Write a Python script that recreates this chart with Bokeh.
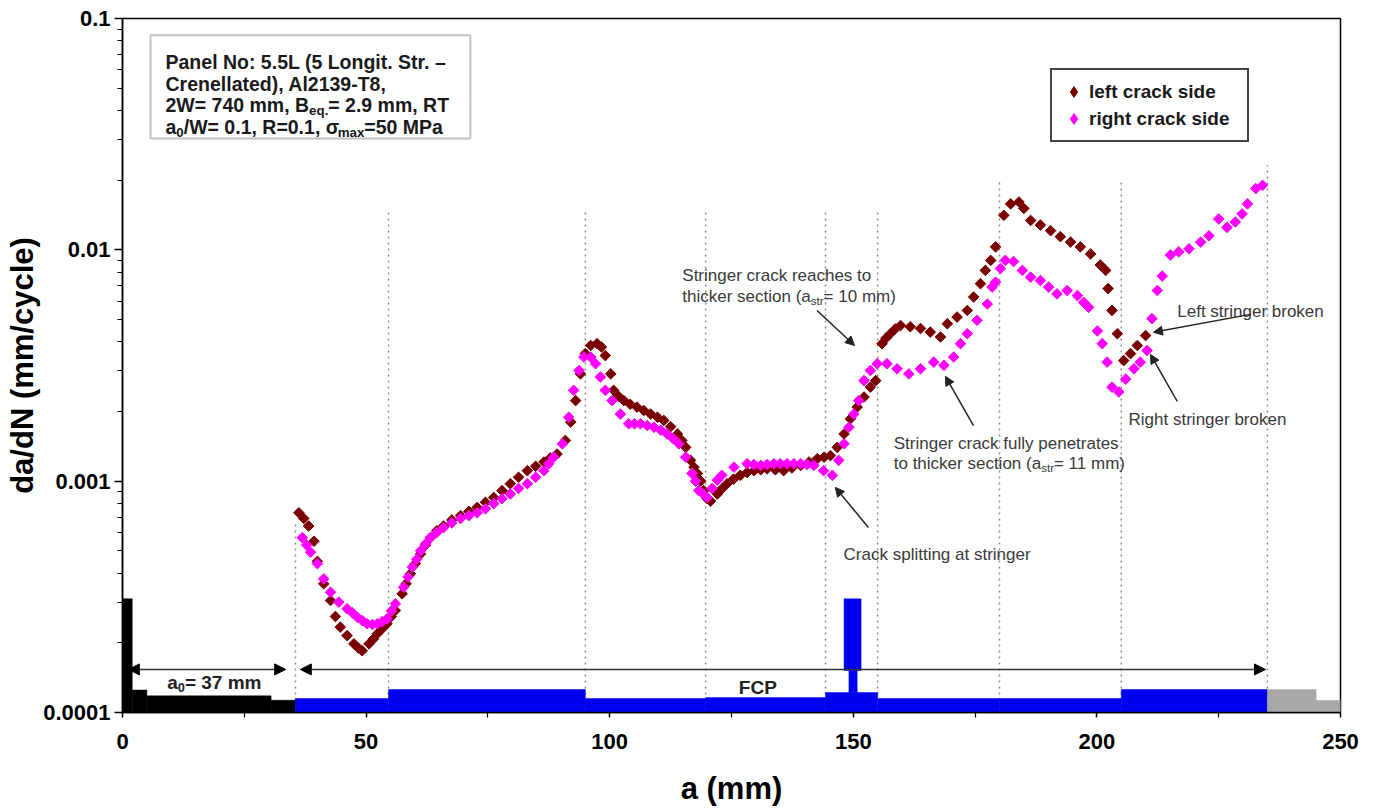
import numpy as np
from bokeh.plotting import figure
from bokeh.models import (Range1d, FixedTicker, PrintfTickFormatter, Arrow, NormalHead,
                          BoxAnnotation, Legend, LegendItem)
from bokeh.core.properties import value
from bokeh.embed import file_html
from bokeh.resources import INLINE

FONT = "Liberation Sans"

# da/dN readings, left crack tip
left_a = [36.2, 37.2, 38.2, 39.3, 40.0, 41.3, 42.7, 43.7, 44.7, 46.1, 47.5, 48.4, 49.2, 50.6, 51.5,
          52.3, 53.3, 54.3, 55.2, 56.0, 57.4, 58.2, 59.1, 60.1, 61.2, 62.2, 63.2, 64.5, 65.9, 67.6,
          69.4, 71.1, 72.8, 74.5, 76.2, 77.9, 79.6, 81.3, 83.1, 84.8, 86.5, 87.8, 89.2, 90.9, 92.0,
          93.0, 94.0, 95.0, 96.1, 97.4, 98.3, 99.1, 100.2, 100.8, 101.8, 102.9, 104.2, 105.6, 107.0,
          108.4, 109.8, 111.1, 112.5, 113.9, 114.8, 115.6, 116.6, 117.3, 118.0, 118.7, 119.3, 120.0,
          120.7, 122.1, 123.1, 124.1, 125.4, 126.8, 128.2, 129.6, 131.0, 132.3, 134.0, 135.7, 137.4,
          139.2, 140.9, 142.6, 144.0, 145.3, 146.7, 148.1, 149.4, 150.8, 152.2, 153.5, 154.6, 155.9,
          156.7, 157.6, 158.6, 159.7, 161.7, 163.8, 165.8, 167.9, 169.3, 171.3, 173.4, 174.7, 176.1,
          177.1, 178.2, 179.2, 180.9, 182.3, 184.0, 185.0, 186.4, 188.4, 190.5, 192.5, 194.6, 196.6,
          198.7, 200.7, 201.8, 202.3, 203.1, 204.2, 205.5, 206.9, 208.3, 210.0]
left_rate = [7.3e-4, 6.9e-4, 6.4e-4, 5.5e-4, 4.5e-4, 3.6e-4, 3.05e-4, 2.6e-4, 2.34e-4, 2.15e-4,
             1.98e-4, 1.9e-4, 1.85e-4, 1.98e-4, 2.08e-4, 2.19e-4, 2.3e-4, 2.42e-4, 2.6e-4, 2.76e-4,
             3.26e-4, 3.6e-4, 3.98e-4, 4.4e-4, 4.85e-4, 5.3e-4, 5.7e-4, 6.1e-4, 6.4e-4, 6.8e-4,
             7.1e-4, 7.4e-4, 7.7e-4, 8.1e-4, 8.5e-4, 9.1e-4, 9.75e-4, 1.04e-3, 1.11e-3, 1.16e-3,
             1.21e-3, 1.26e-3, 1.31e-3, 1.5e-3, 1.8e-3, 2.23e-3, 2.91e-3, 3.56e-3, 3.86e-3, 3.93e-3,
             3.8e-3, 3.49e-3, 2.91e-3, 2.47e-3, 2.33e-3, 2.23e-3, 2.15e-3, 2.09e-3, 2.02e-3, 1.95e-3,
             1.89e-3, 1.83e-3, 1.72e-3, 1.6e-3, 1.5e-3, 1.4e-3, 1.23e-3, 1.15e-3, 1.08e-3, 1.0e-3,
             9.1e-4, 8.4e-4, 8.2e-4, 8.8e-4, 9.3e-4, 9.75e-4, 1.02e-3, 1.06e-3, 1.09e-3, 1.11e-3,
             1.12e-3, 1.13e-3, 1.12e-3, 1.11e-3, 1.14e-3, 1.17e-3, 1.21e-3, 1.25e-3, 1.27e-3, 1.29e-3,
             1.4e-3, 1.6e-3, 1.86e-3, 2.09e-3, 2.31e-3, 2.55e-3, 2.72e-3, 3.93e-3, 4.15e-3, 4.34e-3,
             4.55e-3, 4.71e-3, 4.65e-3, 4.57e-3, 4.41e-3, 4.2e-3, 4.79e-3, 5.12e-3, 5.47e-3, 6.25e-3,
             7.14e-3, 8.15e-3, 9.0e-3, 1.03e-2, 1.41e-2, 1.58e-2, 1.61e-2, 1.51e-2, 1.34e-2, 1.28e-2,
             1.21e-2, 1.14e-2, 1.08e-2, 1.03e-2, 9.6e-3, 8.6e-3, 8.15e-3, 6.8e-3, 5.47e-3, 4.34e-3,
             3.32e-3, 3.56e-3, 3.86e-3, 4.26e-3]

# da/dN readings, right crack tip
right_a = [36.9, 37.8, 38.6, 40.0, 41.3, 42.7, 44.4, 46.1, 47.2, 48.2, 49.2, 50.2, 51.3, 52.3, 53.3,
           54.3, 55.2, 56.0, 57.7, 58.6, 59.5, 60.4, 61.2, 62.2, 63.2, 64.5, 65.9, 67.6, 69.4, 71.1,
           72.8, 74.5, 76.2, 77.9, 79.6, 81.3, 83.1, 84.8, 86.5, 87.5, 88.5, 90.3, 91.6, 92.6, 93.7,
           94.7, 96.1, 97.1, 98.1, 99.1, 100.5, 102.2, 103.9, 105.1, 106.3, 107.7, 109.1, 110.5,
           111.8, 113.0, 114.2, 115.6, 116.9, 117.6, 118.3, 119.2, 120.0, 121.0, 122.1, 123.0, 125.5,
           128.2, 129.6, 131.0, 132.3, 133.7, 135.0, 136.4, 137.8, 139.2, 140.5, 141.9, 143.9, 145.7,
           147.0, 148.1, 149.1, 150.1, 151.1, 152.2, 153.5, 154.9, 156.9, 159.0, 161.4, 163.8, 166.5,
           168.6, 170.6, 172.0, 173.4, 175.4, 177.5, 178.5, 179.2, 180.2, 181.2, 182.9, 184.7, 186.4,
           188.4, 190.1, 191.8, 193.9, 196.0, 197.3, 198.3, 200.1, 201.1, 202.1, 203.1, 204.5, 205.9,
           207.6, 208.9, 210.3, 211.3, 212.4, 213.4, 215.1, 216.8, 218.9, 221.3, 223.0, 225.0, 226.7,
           228.4, 229.8, 230.9, 232.6, 234.0]
right_rate = [5.7e-4, 5.3e-4, 4.93e-4, 4.4e-4, 3.78e-4, 3.31e-4, 3.0e-4, 2.81e-4, 2.7e-4, 2.58e-4,
              2.5e-4, 2.42e-4, 2.4e-4, 2.42e-4, 2.47e-4, 2.54e-4, 2.75e-4, 2.95e-4, 3.48e-4, 3.85e-4,
              4.25e-4, 4.6e-4, 5.0e-4, 5.35e-4, 5.7e-4, 6.0e-4, 6.3e-4, 6.6e-4, 6.9e-4, 7.1e-4,
              7.3e-4, 7.6e-4, 8.0e-4, 8.4e-4, 8.8e-4, 9.3e-4, 9.75e-4, 1.04e-3, 1.11e-3, 1.19e-3,
              1.27e-3, 1.45e-3, 1.89e-3, 2.47e-3, 3.01e-3, 3.44e-3, 3.44e-3, 3.22e-3, 2.82e-3, 2.47e-3,
              2.23e-3, 1.95e-3, 1.77e-3, 1.77e-3, 1.77e-3, 1.74e-3, 1.71e-3, 1.66e-3, 1.6e-3, 1.53e-3,
              1.45e-3, 1.27e-3, 1.08e-3, 1.0e-3, 9.1e-4, 8.8e-4, 8.5e-4, 9.3e-4, 1.01e-3, 1.06e-3,
              1.15e-3, 1.19e-3, 1.18e-3, 1.17e-3, 1.18e-3, 1.19e-3, 1.19e-3, 1.19e-3, 1.19e-3, 1.19e-3,
              1.18e-3, 1.17e-3, 1.11e-3, 1.06e-3, 1.23e-3, 1.45e-3, 1.71e-3, 1.95e-3, 2.23e-3, 2.72e-3,
              3.01e-3, 3.22e-3, 3.22e-3, 3.06e-3, 2.91e-3, 3.06e-3, 3.27e-3, 3.17e-3, 3.44e-3, 3.93e-3,
              4.34e-3, 4.96e-3, 5.83e-3, 6.9e-3, 7.25e-3, 8.3e-3, 9.0e-3, 8.9e-3, 8.15e-3, 7.62e-3,
              7.37e-3, 6.9e-3, 6.45e-3, 6.67e-3, 6.34e-3, 5.93e-3, 5.64e-3, 4.46e-3, 3.93e-3, 3.27e-3,
              2.55e-3, 2.43e-3, 2.76e-3, 3.06e-3, 3.27e-3, 3.67e-3, 5.04e-3, 6.67e-3, 7.7e-3, 9.5e-3,
              9.8e-3, 1.01e-2, 1.08e-2, 1.15e-2, 1.36e-2, 1.25e-2, 1.32e-2, 1.43e-2, 1.58e-2, 1.84e-2,
              1.9e-2]

# panel cross-section sketch along the bottom of the chart (step edges in mm, heights in axis units)
notch_edges = [0, 2, 5, 30.5, 35.5]
notch_heights = [3.1e-4, 1.25e-4, 1.18e-4, 1.13e-4]
fcp_edges = [35.5, 54.6, 95, 119.7, 144.3, 155, 180, 205, 235]
fcp_heights = [1.15e-4, 1.257e-4, 1.15e-4, 1.16e-4, 1.22e-4, 1.15e-4, 1.15e-4, 1.257e-4]
stringer_web = [148.1, 151.6, 1.52e-4, 3.1e-4]     # left, right, bottom, top
stringer_neck = [149.1, 150.8, 1.22e-4, 1.52e-4]
rest_edges = [235, 245, 250]
rest_heights = [1.257e-4, 1.127e-4]

# dotted section boundaries
bound_x = [35.5, 54.6, 95, 119.7, 144.3, 155, 180, 205, 235]
bound_top = [6.6e-4, 0.0147, 0.0147, 0.0147, 0.0147, 0.0147, 0.0199, 0.0199, 0.0232]

y_major = [1e-4, 1e-3, 1e-2, 1e-1]
x_major = [0, 50, 100, 150, 200, 250]
x_minor = [25, 75, 125, 175, 225]

BOLD_W = {' ': 278, '(': 333, ')': 333, ',': 278, '-': 333, '.': 278, '/': 278, ':': 333,
          '=': 584, '–': 556, 'σ': 617, 'A': 722, 'B': 722, 'C': 722, 'F': 611, 'L': 611,
          'M': 833, 'N': 722, 'P': 667, 'R': 722, 'S': 667, 'T': 611, 'W': 944, 'a': 556,
          'c': 556, 'd': 611, 'e': 556, 'f': 333, 'g': 611, 'h': 611, 'i': 278, 'k': 556,
          'l': 278, 'm': 889, 'n': 611, 'o': 611, 'q': 611, 'r': 389, 's': 556, 't': 333,
          'x': 556}
REG_W = {' ': 278, '(': 333, ')': 333, '=': 584, 'a': 556, 'c': 500, 'e': 556, 'h': 556,
         'i': 222, 'k': 500, 'm': 833, 'n': 556, 'o': 556, 'r': 333, 's': 500, 't': 278}


def text_width(s, size, bold):
    table = BOLD_W if bold else REG_W
    return sum(table.get(ch, 556) for ch in s) * size / 1000.0


p = figure(width=1374, height=809, x_range=Range1d(0, 250), y_range=Range1d(1e-4, 0.1),
           y_axis_type="log", output_backend="svg", toolbar_location=None,
           min_border_left=122, min_border_right=34, min_border_top=18, min_border_bottom=97)
p.grid.visible = False
p.outline_line_color = "black"
p.outline_line_width = 1.5
p.background_fill_color = "white"
p.border_fill_color = "white"


def draw_rich(x, y, parts, size, bold, color):
    dx = 0.0
    for s, sub in parts:
        fs = size * 0.68 if sub else size
        p.text(x=[x], y=[y], text=[s], x_offset=dx, y_offset=(size * 0.24 if sub else 0),
               text_font=value(FONT), text_font_size=f"{fs:.1f}px",
               text_font_style="bold" if bold else "normal", text_color=color,
               text_align="left", text_baseline="alphabetic")
        dx += text_width(s, fs, bold)


# section boundaries
p.segment(x0=bound_x, y0=[1e-4] * len(bound_x), x1=bound_x, y1=bound_top,
          line_color="#8c8c8c", line_width=1.5, line_dash="2 4")

# cross-section sketch
p.quad(left=notch_edges[:-1], right=notch_edges[1:], bottom=1e-4, top=notch_heights,
       fill_color="black", line_color="black", line_width=0.5)
p.quad(left=fcp_edges[:-1], right=fcp_edges[1:], bottom=1e-4, top=fcp_heights,
       fill_color="#0000f0", line_color="#0000f0", line_width=0.5)
for l, r, b, t in (stringer_web, stringer_neck):
    p.quad(left=[l], right=[r], bottom=[b], top=[t], fill_color="#0000f0",
           line_color="#0000f0", line_width=0.5)
p.quad(left=rest_edges[:-1], right=rest_edges[1:], bottom=1e-4, top=rest_heights,
       fill_color="#a8a8a8", line_color="#a8a8a8", line_width=0.5)

# dimension arrows
dim_y = 1.535e-4
for x0, x1 in ((1.2, 33.5), (36.5, 234.6)):
    p.add_layout(Arrow(x_start=x0, y_start=dim_y, x_end=x1, y_end=dim_y, line_color="#333333",
                       line_width=1.5,
                       start=NormalHead(size=11, fill_color="black", line_color="black"),
                       end=NormalHead(size=11, fill_color="black", line_color="black")))
draw_rich(9.17, 1.348e-4, [("a", False), ("0", True), ("= 37 mm", False)], 19, True, "#222222")
p.text(x=[130.4], y=[1.286e-4], text=["FCP"], text_font=value(FONT), text_font_size="19px",
       text_font_style="bold", text_color="#222222", text_align="center",
       text_baseline="alphabetic")

# measured rates
LEFT_COLOR = "#7a0000"
RIGHT_COLOR = "#ff00ff"
p.scatter(left_a, left_rate, marker="square", angle=np.pi / 4, size=7.5,
          fill_color=LEFT_COLOR, line_color=LEFT_COLOR)
p.scatter(right_a, right_rate, marker="square", angle=np.pi / 4, size=7.5,
          fill_color=RIGHT_COLOR, line_color=RIGHT_COLOR)

# hidden diamond keys used only for the legend swatches
key_left = p.scatter(left_a[:1], left_rate[:1], marker="diamond", size=10,
                     fill_color=LEFT_COLOR, line_color=LEFT_COLOR, visible=False)
key_right = p.scatter(right_a[:1], right_rate[:1], marker="diamond", size=10,
                      fill_color=RIGHT_COLOR, line_color=RIGHT_COLOR, visible=False)

# event annotations
ann_color = "#3a3a3a"
ann_size = 17
draw_rich(114.9, 7.75e-3, [("Stringer crack reaches to", False)], ann_size, False, ann_color)
draw_rich(114.9, 6.29e-3, [("thicker section (a", False), ("str", True), ("= 10 mm)", False)],
          ann_size, False, ann_color)
draw_rich(158.3, 1.452e-3, [("Stringer crack fully penetrates", False)], ann_size, False, ann_color)
draw_rich(158.3, 1.193e-3, [("to thicker section (a", False), ("str", True), ("= 11 mm)", False)],
          ann_size, False, ann_color)
draw_rich(148.0, 4.82e-4, [("Crack splitting at stringer", False)], ann_size, False, ann_color)
draw_rich(216.5, 5.42e-3, [("Left stringer broken", False)], ann_size, False, ann_color)
draw_rich(206.5, 1.85e-3, [("Right stringer broken", False)], ann_size, False, ann_color)

pointers = [(142.56, 5.47e-3, 150.25, 3.86e-3),
            (174.67, 1.74e-3, 168.9, 2.84e-3),
            (153.1, 6.31e-4, 146.3, 9.4e-4),
            (231.5, 5.26e-3, 211.6, 4.4e-3),
            (216.5, 2.21e-3, 211.0, 3.53e-3)]
for xs, ys, xe, ye in pointers:
    p.add_layout(Arrow(x_start=xs, y_start=ys, x_end=xe, y_end=ye, line_color="#222222",
                       line_width=1.5,
                       end=NormalHead(size=9, fill_color="#222222", line_color="#222222")))

# specimen description box
p.add_layout(BoxAnnotation(left=5.75, right=71.4, bottom=0.0303, top=0.0846, fill_color="white",
                           fill_alpha=1.0, line_color="#333333", line_width=2, level="underlay"))
info_size = 19.5
draw_rich(8.83, 0.0646, [("Panel No: 5.5L (5 Longit. Str. –", False)], info_size, True, "#1a1a1a")
draw_rich(8.83, 0.0522, [("Crenellated), Al2139-T8,", False)], info_size, True, "#1a1a1a")
draw_rich(8.83, 0.0421, [("2W= 740 mm, B", False), ("eq.", True), ("= 2.9 mm, RT", False)],
          info_size, True, "#1a1a1a")
draw_rich(8.83, 0.0338, [("a", False), ("0", True), ("/W= 0.1, R=0.1, ", False), ("σ", False),
                         ("max", True), ("=50 MPa", False)], info_size, True, "#1a1a1a")

legend = Legend(items=[LegendItem(label="left crack side", renderers=[key_left]),
                       LegendItem(label="right crack side", renderers=[key_right])],
                location=(928, 570), orientation="vertical", padding=8, spacing=0,
                margin=0, glyph_width=27, glyph_height=27, label_height=27, label_width=150,
                label_standoff=2,
                label_text_font=FONT, label_text_font_size="19px", label_text_font_style="bold",
                label_text_color="#1a1a1a", border_line_color="#444444", border_line_width=2,
                border_line_alpha=1.0, background_fill_color="white", background_fill_alpha=1.0,
                inactive_fill_alpha=0.0)
p.add_layout(legend)

# axes
p.xaxis.ticker = FixedTicker(ticks=x_major, minor_ticks=x_minor)
p.yaxis.ticker = FixedTicker(ticks=y_major,
                             minor_ticks=[m * d for d in (1e-4, 1e-3, 1e-2) for m in range(2, 10)])
p.yaxis.formatter = PrintfTickFormatter(format="%g")
for ax in (p.xaxis, p.yaxis):
    ax.axis_line_color = "black"
    ax.axis_line_width = 1.5
    ax.major_tick_line_width = 1.5
    ax.minor_tick_line_width = 1.2
    ax.major_tick_in = 0
    ax.minor_tick_in = 0
    ax.major_label_text_font = FONT
    ax.major_label_text_font_size = "22px"
    ax.major_label_text_font_style = "bold"
    ax.major_label_text_color = "black"
    ax.axis_label_text_font = FONT
    ax.axis_label_text_font_size = "31px"
    ax.axis_label_text_font_style = "bold"
    ax.axis_label_text_color = "black"
p.xaxis.major_tick_out = 5
p.xaxis.minor_tick_out = 5
p.xaxis.major_label_standoff = 16
p.xaxis.axis_label = "a (mm)"
p.xaxis.axis_label_standoff = 19
p.yaxis.major_tick_out = 8
p.yaxis.minor_tick_out = 5
p.yaxis.major_label_standoff = 4
p.yaxis.axis_label = "da/dN (mm/cycle)"
p.yaxis.axis_label_standoff = 0

open("out.html", "w").write(file_html(p, INLINE))
